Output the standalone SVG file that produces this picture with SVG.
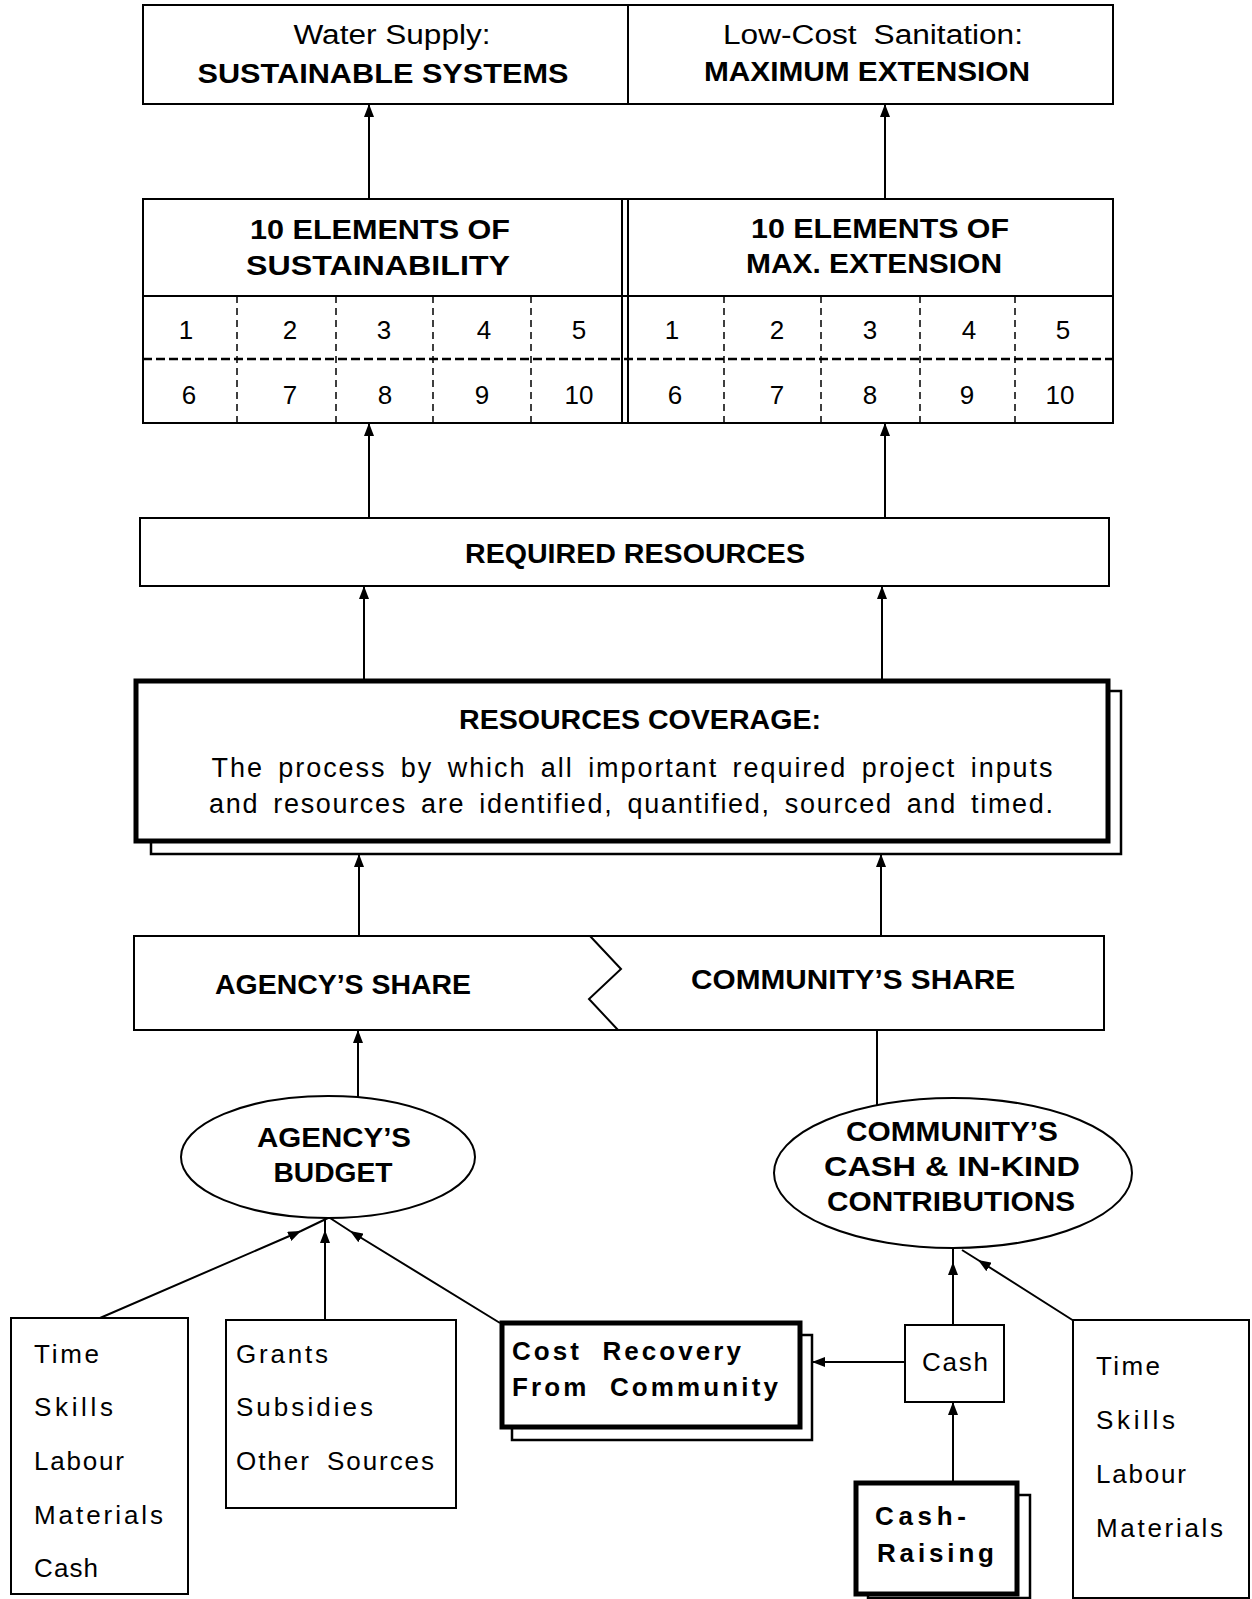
<svg xmlns="http://www.w3.org/2000/svg" width="1252" height="1599" viewBox="0 0 1252 1599">
<style>
.box{fill:#fff;stroke:#000;stroke-width:2}
.thick{fill:#fff;stroke:#000;stroke-width:5}
.shadow{fill:none;stroke:#000;stroke-width:2.5}
.dash{fill:none;stroke:#000;stroke-width:1.5;stroke-dasharray:7 5}
.dashh{fill:none;stroke:#000;stroke-width:2.5;stroke-dasharray:9 4}
.ln{fill:none;stroke:#000;stroke-width:2}
.t{font-family:"Liberation Sans",Arial,sans-serif;font-size:27px;fill:#000}
.b{font-weight:bold}
.m{text-anchor:middle}
.ws{word-spacing:5px}
.ws2{word-spacing:7px}
.ws3{word-spacing:10px}
.n{font-family:"Liberation Sans",Arial,sans-serif;font-size:26px;text-anchor:middle;fill:#000}
.l{font-family:"Liberation Sans",Arial,sans-serif;font-size:26px;fill:#000}
</style>
<defs>
<marker id="ah" viewBox="0 0 13 10" refX="13" refY="5" markerWidth="13" markerHeight="10" markerUnits="userSpaceOnUse" orient="auto">
<path d="M0,0 L13,5 L0,10 z" fill="#000"/>
</marker>
</defs>

<g id="top-box">
<rect class="box" x="143" y="5" width="970" height="99"/>
<line class="ln" x1="628" y1="5" x2="628" y2="104"/>
<text class="t m" x="392" y="44" textLength="197" lengthAdjust="spacingAndGlyphs">Water Supply:</text>
<text class="t b m" x="383" y="83" textLength="371" lengthAdjust="spacingAndGlyphs">SUSTAINABLE SYSTEMS</text>
<text class="t m ws2" x="873" y="44" textLength="300" lengthAdjust="spacingAndGlyphs">Low-Cost Sanitation:</text>
<text class="t b m" x="867" y="81" textLength="326" lengthAdjust="spacingAndGlyphs">MAXIMUM EXTENSION</text>
</g>

<g id="elements">
<rect class="box" x="143" y="199" width="970" height="224"/>
<line class="ln" x1="622" y1="199" x2="622" y2="423"/>
<line class="ln" x1="628" y1="199" x2="628" y2="423"/>
<line class="ln" x1="143" y1="296" x2="1113" y2="296"/>
<line class="dashh" x1="143" y1="359" x2="1113" y2="359"/>
<path class="dash" d="M237,296V423M336,296V423M433,296V423M531,296V423M724,296V423M821,296V423M920,296V423M1015,296V423"/>
<text class="t b m" x="380" y="239" textLength="260" lengthAdjust="spacingAndGlyphs">10 ELEMENTS OF</text>
<text class="t b m" x="378" y="275" textLength="264" lengthAdjust="spacingAndGlyphs">SUSTAINABILITY</text>
<text class="t b m" x="880" y="238" textLength="258" lengthAdjust="spacingAndGlyphs">10 ELEMENTS OF</text>
<text class="t b m" x="874" y="273" textLength="256" lengthAdjust="spacingAndGlyphs">MAX. EXTENSION</text>
<text class="n" x="186" y="339">1</text><text class="n" x="290" y="339">2</text><text class="n" x="384" y="339">3</text><text class="n" x="484" y="339">4</text><text class="n" x="579" y="339">5</text>
<text class="n" x="189" y="404">6</text><text class="n" x="290" y="404">7</text><text class="n" x="385" y="404">8</text><text class="n" x="482" y="404">9</text><text class="n" x="579" y="404">10</text>
<text class="n" x="672" y="339">1</text><text class="n" x="777" y="339">2</text><text class="n" x="870" y="339">3</text><text class="n" x="969" y="339">4</text><text class="n" x="1063" y="339">5</text>
<text class="n" x="675" y="404">6</text><text class="n" x="777" y="404">7</text><text class="n" x="870" y="404">8</text><text class="n" x="967" y="404">9</text><text class="n" x="1060" y="404">10</text>
</g>

<g id="required-resources">
<rect class="box" x="140" y="518" width="969" height="68"/>
<text class="t b m" x="635" y="563" textLength="340" lengthAdjust="spacingAndGlyphs">REQUIRED RESOURCES</text>
</g>

<g id="resources-coverage">
<polyline class="shadow" points="1108,691 1121,691 1121,854 151,854 151,841"/>
<rect class="thick" x="136" y="681" width="972" height="160"/>
<text class="t b m" x="640" y="729" textLength="362" lengthAdjust="spacingAndGlyphs">RESOURCES COVERAGE:</text>
<text class="t m ws" x="632" y="777" textLength="841" lengthAdjust="spacing">The process by which all important required project inputs</text>
<text class="t m ws" x="631" y="813" textLength="844" lengthAdjust="spacing">and resources are identified, quantified, sourced and timed.</text>
</g>

<g id="shares">
<rect class="box" x="134" y="936" width="970" height="94"/>
<polyline class="ln" points="590,936 621,969 589,999 618,1030"/>
<text class="t b m" x="343" y="994" textLength="256" lengthAdjust="spacingAndGlyphs">AGENCY’S SHARE</text>
<text class="t b m" x="853" y="989" textLength="324" lengthAdjust="spacingAndGlyphs">COMMUNITY’S SHARE</text>
</g>

<g id="agency-budget">
<ellipse class="box" cx="328" cy="1157" rx="147" ry="61"/>
<text class="t b m" x="334" y="1147" textLength="154" lengthAdjust="spacingAndGlyphs">AGENCY’S</text>
<text class="t b m" x="333" y="1182" textLength="119" lengthAdjust="spacingAndGlyphs">BUDGET</text>
</g>

<g id="community-contributions">
<ellipse class="box" cx="953" cy="1173" rx="179" ry="75"/>
<text class="t b m" x="952" y="1141" textLength="212" lengthAdjust="spacingAndGlyphs">COMMUNITY’S</text>
<text class="t b m" x="952" y="1176" textLength="256" lengthAdjust="spacingAndGlyphs">CASH &amp; IN-KIND</text>
<text class="t b m" x="951" y="1211" textLength="248" lengthAdjust="spacingAndGlyphs">CONTRIBUTIONS</text>
</g>

<g id="agency-inputs">
<rect class="box" x="11" y="1318" width="177" height="276"/>
<text class="l" x="34" y="1363" textLength="65" lengthAdjust="spacing">Time</text>
<text class="l" x="34" y="1416" textLength="79" lengthAdjust="spacing">Skills</text>
<text class="l" x="34" y="1470" textLength="90" lengthAdjust="spacing">Labour</text>
<text class="l" x="34" y="1524" textLength="129" lengthAdjust="spacing">Materials</text>
<text class="l" x="34" y="1577" textLength="64" lengthAdjust="spacing">Cash</text>
</g>

<g id="grants">
<rect class="box" x="226" y="1320" width="230" height="188"/>
<text class="l" x="236" y="1363" textLength="92" lengthAdjust="spacing">Grants</text>
<text class="l" x="236" y="1416" textLength="137" lengthAdjust="spacing">Subsidies</text>
<text class="l ws2" x="236" y="1470" textLength="198" lengthAdjust="spacing">Other Sources</text>
</g>

<g id="cost-recovery">
<polyline class="shadow" points="800,1335 812,1335 812,1440 512,1440 512,1427"/>
<rect class="thick" x="502" y="1323" width="298" height="104"/>
<text class="l b ws3" x="512" y="1360" textLength="229" lengthAdjust="spacing">Cost Recovery</text>
<text class="l b ws3" x="512" y="1396" textLength="266" lengthAdjust="spacing">From Community</text>
</g>

<g id="cash">
<rect class="box" x="905" y="1325" width="99" height="77"/>
<text class="l m" x="955" y="1371" textLength="66" lengthAdjust="spacing">Cash</text>
</g>

<g id="cash-raising">
<polyline class="shadow" points="1017,1495 1030,1495 1030,1598 868,1598 868,1594"/>
<rect class="thick" x="856" y="1483" width="161" height="111"/>
<text class="l b" x="875" y="1525" textLength="91" lengthAdjust="spacing">Cash-</text>
<text class="l b" x="877" y="1562" textLength="117" lengthAdjust="spacing">Raising</text>
</g>

<g id="community-inputs">
<rect class="box" x="1073" y="1320" width="176" height="278"/>
<text class="l" x="1096" y="1375" textLength="64" lengthAdjust="spacing">Time</text>
<text class="l" x="1096" y="1429" textLength="79" lengthAdjust="spacing">Skills</text>
<text class="l" x="1096" y="1483" textLength="90" lengthAdjust="spacing">Labour</text>
<text class="l" x="1096" y="1537" textLength="127" lengthAdjust="spacing">Materials</text>
</g>

<g id="connectors">
<line class="ln" x1="369" y1="199" x2="369" y2="104" marker-end="url(#ah)"/>
<line class="ln" x1="885" y1="199" x2="885" y2="104" marker-end="url(#ah)"/>
<line class="ln" x1="369" y1="518" x2="369" y2="423" marker-end="url(#ah)"/>
<line class="ln" x1="885" y1="518" x2="885" y2="423" marker-end="url(#ah)"/>
<line class="ln" x1="364" y1="681" x2="364" y2="586" marker-end="url(#ah)"/>
<line class="ln" x1="882" y1="681" x2="882" y2="586" marker-end="url(#ah)"/>
<line class="ln" x1="359" y1="936" x2="359" y2="854" marker-end="url(#ah)"/>
<line class="ln" x1="881" y1="936" x2="881" y2="854" marker-end="url(#ah)"/>
<line class="ln" x1="358" y1="1097" x2="358" y2="1030" marker-end="url(#ah)"/>
<line class="ln" x1="877" y1="1105" x2="877" y2="1030"/>
<path class="ln" d="M100,1318 L301,1231 L328,1218" marker-mid="url(#ah)"/>
<path class="ln" d="M325,1320 L325,1230 L325,1218" marker-mid="url(#ah)"/>
<path class="ln" d="M500,1323 L350,1231 L330,1218" marker-mid="url(#ah)"/>
<path class="ln" d="M953,1325 L953,1262 L953,1248" marker-mid="url(#ah)"/>
<path class="ln" d="M1074,1321 L978,1260 L962,1250" marker-mid="url(#ah)"/>
<line class="ln" x1="905" y1="1362" x2="812" y2="1362" marker-end="url(#ah)"/>
<line class="ln" x1="953" y1="1483" x2="953" y2="1402" marker-end="url(#ah)"/>
</g>
</svg>
